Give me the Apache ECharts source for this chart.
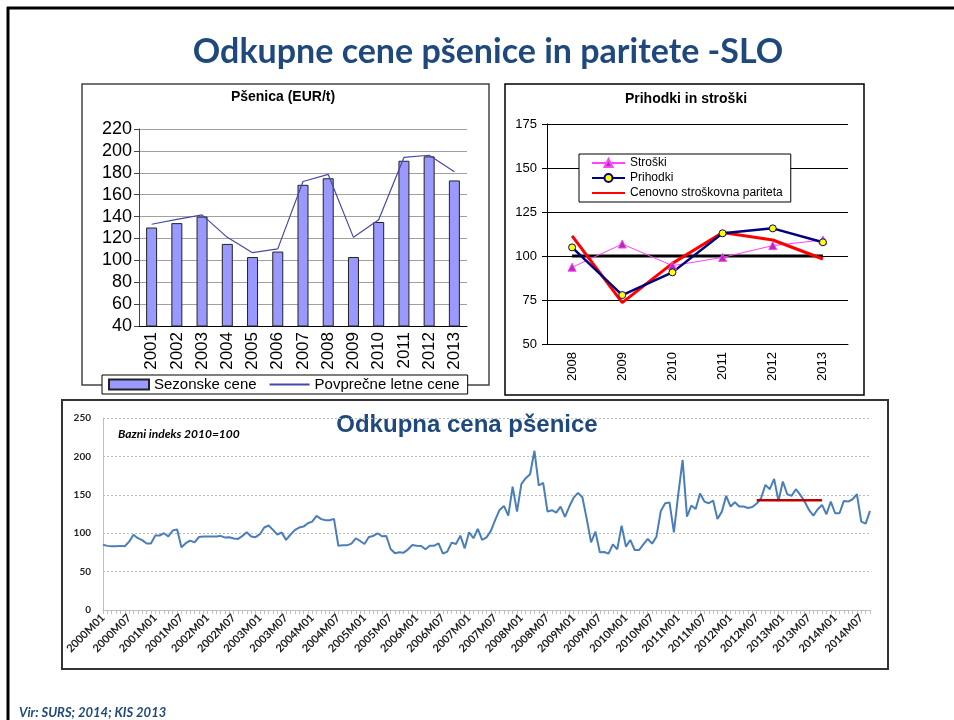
<!DOCTYPE html>
<html>
<head>
<meta charset="utf-8">
<script src="https://cdn.jsdelivr.net/npm/echarts@6/dist/echarts.min.js"></script>
<style>
  html, body { margin: 0; padding: 0; background: #fff; }
  #chart { width: 954px; height: 720px; }
</style>
</head>
<body>
<div id="chart"></div>
<script>
// --- top left: wheat price per year (EUR/t)
const years = ['2001', '2002', '2003', '2004', '2005', '2006', '2007', '2008', '2009', '2010', '2011', '2012', '2013'];
const seasonalPrice = [130, 134, 140, 115, 103, 108, 169, 175, 103, 135, 191, 195, 173];
const avgYearPrice = [133, 137.5, 141.5, 121, 107, 110.5, 172, 178.5, 121, 137, 194, 196, 181];

// --- top right: revenues and costs
const parityYears = ['2008', '2009', '2010', '2011', '2012', '2013'];
const costs = [93.6, 106.8, 94.5, 99.2, 105.9, 109.1];
const revenues = [104.9, 77.8, 90.7, 112.9, 115.7, 107.8];
const parity = [111.4, 73.5, 95.8, 113.3, 109.1, 98.3];
const baseline = [100, 100, 100, 100, 100, 100];

// --- bottom: monthly purchase price index (2010 = 100), 2000M01 .. 2014M09
const monthlyIndex = [
  85, 83.5, 83, 83, 83.5, 83, 89, 98, 93.5, 91, 86.5, 86.5,            // 2000
  97, 97, 100, 95.7, 103.5, 105, 81.7, 87, 90.4, 88, 95, 95.7,         // 2001
  95.7, 95.7, 95.7, 96.5, 94.3, 94.8, 93, 92.6, 96.5, 101.3, 95.7, 94.8, // 2002
  98.7, 107.4, 110, 104.3, 98.3, 100.9, 91.3, 98, 104, 107.3, 108.6, 113, // 2003
  115, 122.5, 118.6, 117, 116.8, 118.6, 83.8, 84.2, 84.2, 86.4, 93.4, 89.9, // 2004
  86, 95, 96.4, 99.9, 96, 96.4, 79.4, 73.8, 75.1, 74.7, 79, 84.7,      // 2005
  83.8, 83.4, 79, 83.8, 83.8, 86.8, 73.4, 76, 87.7, 86, 96.8, 80.3,    // 2006
  101.2, 93.4, 105.5, 91.2, 94.5, 103, 117.3, 130.3, 135.5, 122.9, 160.7, 128.1, // 2007
  163.8, 171.6, 176.8, 207.3, 162.1, 165.5, 128.1, 129.9, 126.8, 134.7, 121.2, 134.7, // 2008
  146.4, 152.5, 146.9, 118.6, 88.1, 102.1, 75.1, 75.5, 73.4, 85.5, 79, 109.9, // 2009
  82.5, 91.2, 78.1, 78.1, 85.5, 92.5, 86.4, 95.5, 129, 139, 139.9, 101.2, // 2010
  150.7, 195.5, 121.6, 136, 131.6, 151.6, 141.2, 139, 142.5, 118.6, 128.1, 148.6, // 2011
  134.7, 140.3, 134.7, 134.7, 132.9, 134.2, 138.6, 145.5, 162.9, 157.3, 170.7, 142, // 2012
  167.3, 150.8, 148.6, 157.3, 149.9, 141.2, 130.3, 122.9, 131.2, 136.8, 124.7, 141.2, // 2013
  126, 126, 142, 141.2, 144.2, 150.7, 115.1, 112.5, 129                // 2014
];
// horizontal reference level 2012M07 .. 2013M10
const levelValue = 143;
const levelFrom = '2012M07';
const levelTo = '2013M10';

const months = [];
for (let y = 2000; months.length < monthlyIndex.length; y++) {
  for (let m = 1; m <= 12 && months.length < monthlyIndex.length; m++) {
    months.push(y + 'M' + (m < 10 ? '0' + m : m));
  }
}
const iFrom = months.indexOf(levelFrom), iTo = months.indexOf(levelTo);
const levelLine = months.map((m, i) => (i >= iFrom && i <= iTo ? levelValue : null));

const ARIAL = '"Liberation Sans", Arial, sans-serif';
const CALIBRI = 'Lato, "Noto Sans", sans-serif';
const BLUE = '#1F497D';

const chart = echarts.init(document.getElementById('chart'));

const noMarker = { opacity: 0 };

const option = {
  animation: false,
  backgroundColor: '#fff',
  grid: [
    { left: 139, top: 129, width: 328, height: 197 },
    { left: 547, top: 124, width: 301, height: 220 },
    { left: 103, top: 418, width: 767, height: 192 }
  ],
  xAxis: [
    {
      gridIndex: 0, type: 'category', data: years,
      axisLine: { lineStyle: { color: '#000', width: 1 } },
      axisTick: { length: 5, lineStyle: { color: '#000' } },
      axisLabel: { rotate: 90, fontSize: 17, fontFamily: ARIAL, color: '#000', margin: 6 }
    },
    {
      gridIndex: 1, type: 'category', data: parityYears,
      axisLine: { lineStyle: { color: '#000', width: 1 } },
      axisTick: { length: 5, lineStyle: { color: '#000' } },
      axisLabel: { rotate: 90, fontSize: 13, fontFamily: ARIAL, color: '#000', margin: 8 }
    },
    {
      gridIndex: 2, type: 'category', data: months, boundaryGap: false,
      axisLine: { lineStyle: { color: '#bfbfbf', width: 1 } },
      axisTick: { interval: 0, length: 4, lineStyle: { color: '#bfbfbf' } },
      axisLabel: { interval: 5, rotate: 45, fontSize: 11, fontWeight: 'bold', fontFamily: CALIBRI, color: '#222', margin: 6 }
    }
  ],
  yAxis: [
    {
      gridIndex: 0, type: 'value', min: 40, max: 220, interval: 20,
      axisLine: { show: true, lineStyle: { color: '#444' } },
      axisTick: { show: true, length: 5, lineStyle: { color: '#444' } },
      axisLabel: { fontSize: 18, fontFamily: ARIAL, color: '#000', margin: 7 },
      splitLine: { lineStyle: { color: '#a0a0a0', width: 1 } }
    },
    {
      gridIndex: 1, type: 'value', min: 50, max: 175, interval: 25,
      axisLine: { show: true, lineStyle: { color: '#000' } },
      axisTick: { show: true, length: 5, lineStyle: { color: '#000' } },
      axisLabel: { fontSize: 13, fontFamily: ARIAL, color: '#000', margin: 10 },
      splitLine: { lineStyle: { color: '#000', width: 1 } }
    },
    {
      gridIndex: 2, type: 'value', min: 0, max: 250, interval: 50,
      axisLine: { show: true, lineStyle: { color: '#bfbfbf' } },
      axisTick: { show: false },
      axisLabel: { fontSize: 10, fontWeight: 'bold', fontFamily: CALIBRI, color: '#222', margin: 12 },
      splitLine: { lineStyle: { color: '#bbb', width: 1, type: [2, 2] } }
    }
  ],
  legend: [
    {
      data: [
        { name: 'Sezonske cene', icon: 'rect' },
        { name: 'Povprečne letne cene', itemStyle: noMarker }
      ],
      left: 102, top: 375, padding: [2, 8, 2, 6], itemGap: 12,
      itemWidth: 40, itemHeight: 10,
      backgroundColor: '#fff', borderColor: '#000', borderWidth: 1,
      textStyle: { fontSize: 15, fontFamily: ARIAL, color: '#000' }
    },
    {
      data: ['Stroški', 'Prihodki', { name: 'Cenovno stroškovna pariteta', itemStyle: noMarker }],
      orient: 'vertical', left: 579, top: 154, padding: [3, 8, 3, 12], itemGap: 3,
      itemWidth: 33, itemHeight: 10,
      backgroundColor: '#fff', borderColor: '#000', borderWidth: 1,
      textStyle: { fontSize: 12, fontFamily: ARIAL, color: '#000' }
    }
  ],
  series: [
    {
      name: 'Sezonske cene', type: 'bar', xAxisIndex: 0, yAxisIndex: 0,
      data: seasonalPrice, barWidth: 11,
      itemStyle: { color: '#9999ff', borderColor: '#222', borderWidth: 1 }
    },
    {
      name: 'Povprečne letne cene', type: 'line', xAxisIndex: 0, yAxisIndex: 0,
      data: avgYearPrice, symbol: 'none',
      lineStyle: { color: '#4848a8', width: 1.2 }, itemStyle: { color: '#4848a8' }
    },
    {
      name: 'baseline', type: 'line', xAxisIndex: 1, yAxisIndex: 1,
      data: baseline, symbol: 'none', z: 1,
      lineStyle: { color: '#000', width: 3 }
    },
    {
      name: 'Stroški', type: 'line', xAxisIndex: 1, yAxisIndex: 1,
      data: costs, symbol: 'triangle', symbolSize: 8,
      lineStyle: { color: '#ff44ff', width: 1 },
      itemStyle: { color: '#b02eb0', borderColor: '#ff44ff', borderWidth: 1 }
    },
    {
      name: 'Cenovno stroškovna pariteta', type: 'line', xAxisIndex: 1, yAxisIndex: 1,
      data: parity, symbol: 'none',
      lineStyle: { color: '#ff0000', width: 3 }, itemStyle: { color: '#ff0000' }
    },
    {
      name: 'Prihodki', type: 'line', xAxisIndex: 1, yAxisIndex: 1,
      data: revenues, symbol: 'circle', symbolSize: 7,
      lineStyle: { color: '#000080', width: 2.5 },
      itemStyle: { color: '#ffff00', borderColor: '#000080', borderWidth: 1 }
    },
    {
      name: 'Odkupna cena', type: 'line', xAxisIndex: 2, yAxisIndex: 2,
      data: monthlyIndex, symbol: 'none',
      lineStyle: { color: '#4a7ebb', width: 2 }
    },
    {
      name: 'Raven', type: 'line', xAxisIndex: 2, yAxisIndex: 2,
      data: levelLine, symbol: 'none', connectNulls: false, z: 3,
      lineStyle: { color: '#c00000', width: 2.5 }
    }
  ],
  graphic: [
    // slide frame
    { type: 'line', shape: { x1: 7, y1: 8, x2: 954, y2: 8 }, style: { stroke: '#000', lineWidth: 3 } },
    { type: 'line', shape: { x1: 8, y1: 7, x2: 8, y2: 720 }, style: { stroke: '#000', lineWidth: 3 } },
    {
      type: 'text', x: 488, y: 52,
      style: { text: 'Odkupne cene pšenice in paritete -SLO', fill: BLUE, font: 'bold 34px ' + CALIBRI, textAlign: 'center', textVerticalAlign: 'middle' }
    },
    // box 1
    { type: 'rect', z: -1, shape: { x: 82, y: 84, width: 407, height: 301 }, style: { fill: 'none', stroke: '#444', lineWidth: 1.5 } },
    {
      type: 'text', x: 283, y: 97,
      style: { text: 'Pšenica (EUR/t)', fill: '#000', font: 'bold 14px ' + ARIAL, textAlign: 'center', textVerticalAlign: 'middle' }
    },
    // box 2
    { type: 'rect', z: -1, shape: { x: 505, y: 84, width: 359, height: 311 }, style: { fill: 'none', stroke: '#000', lineWidth: 1.5 } },
    {
      type: 'text', x: 686, y: 99,
      style: { text: 'Prihodki in stroški', fill: '#000', font: 'bold 14px ' + ARIAL, textAlign: 'center', textVerticalAlign: 'middle' }
    },
    // box 3
    { type: 'rect', z: -1, shape: { x: 62, y: 400, width: 826, height: 269 }, style: { fill: 'none', stroke: '#333', lineWidth: 2 } },
    {
      type: 'text', x: 467, y: 425,
      style: { text: 'Odkupna cena pšenice', fill: BLUE, font: 'bold 24px ' + ARIAL, textAlign: 'center', textVerticalAlign: 'middle' }
    },
    {
      type: 'text', x: 118, y: 434,
      style: { text: 'Bazni indeks 2010=100', fill: '#000', font: 'italic bold 12px ' + CALIBRI, textAlign: 'left', textVerticalAlign: 'middle' }
    },
    {
      type: 'text', x: 19, y: 713,
      style: { text: 'Vir: SURS; 2014; KIS 2013', fill: BLUE, font: 'italic bold 13px ' + CALIBRI, textAlign: 'left', textVerticalAlign: 'middle' }
    }
  ]
};

chart.setOption(option);
</script>
</body>
</html>
